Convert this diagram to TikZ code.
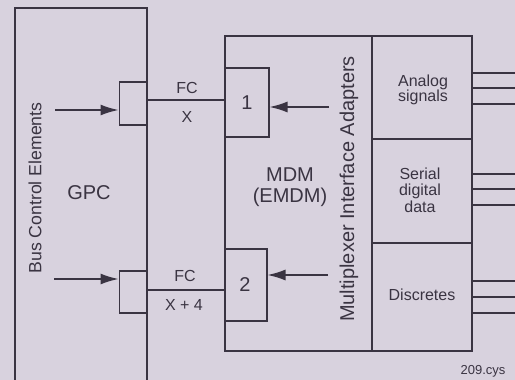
\documentclass[tikz,border=0pt]{standalone}
\usepackage{fontspec}
\setmainfont{Liberation Sans}
\usetikzlibrary{arrows.meta}
\definecolor{bg}{RGB}{216,210,222}
\definecolor{ink}{RGB}{58,52,66}
\tikzset{
  ln/.style={draw=ink, line width=1.5pt},
  arr/.style={ln, -{Latex[length=18pt,width=11pt]}},
  lbl/.style={text=ink, inner sep=0pt, align=center},
  big/.style={lbl, font=\fontsize{20}{22}\selectfont},
  small/.style={lbl, font=\fontsize{16}{17}\selectfont},
}
\begin{document}
\begin{tikzpicture}[x=1pt,y=-1pt]
\fill[bg] (0,0) rectangle (515,380);
\useasboundingbox (0,0) rectangle (515,380);
\clip (0,0) rectangle (515,380);
% GPC box
\draw[ln] (15,385) -- (15,8) -- (147,8) -- (147,385);
\node[lbl, rotate=90, font=\fontsize{17.7}{19}\selectfont] (bce) at (35,188) {Bus Control Elements};
\node[big] (gpc) at (89,193) {GPC};
% ports on GPC
\node[ln, minimum width=27pt, minimum height=43pt, inner sep=0pt, anchor=north east] (p1) at (147,81) {};
\node[ln, minimum width=27pt, minimum height=42pt, inner sep=0pt, anchor=north east] (p2) at (147,270) {};
\coordinate (a1s) at (55,110);
\coordinate (a2s) at (54,279);
\draw[arr] (a1s) -- (a1s -| p1.west);
\draw[arr] (a2s) -- (a2s -| p2.west);
% MDM box
\node[ln, minimum width=247pt, minimum height=315pt, inner sep=0pt, anchor=north west] (mdm) at (224,35) {};
\coordinate (divt) at (372,35);
\coordinate (divb) at (372,350);
\draw[ln] (divt) -- (divb);
\coordinate (h1l) at (372,139);
\coordinate (h1r) at (471,139);
\coordinate (h2l) at (372,243);
\coordinate (h2r) at (471,243);
\draw[ln] (h1l) -- (h1r);
\draw[ln] (h2l) -- (h2r);
% inner boxes
\node[ln, minimum width=44pt, minimum height=69pt, inner sep=0pt, anchor=north west] (b1) at (224,67) {};
\node[ln, minimum width=42pt, minimum height=72pt, inner sep=0pt, anchor=north west] (b2) at (224,248) {};
\node[big] (n1) at (247,103) {1};
\node[big] (n2) at (245,285) {2};
\coordinate (c1s) at (329,107);
\coordinate (c2s) at (328,275);
\draw[arr] (c1s) -- (c1s -| b1.east);
\draw[arr] (c2s) -- (c2s -| b2.east);
% connections
\coordinate (l1) at (147,100);
\coordinate (l2) at (147,290);
\draw[ln] (l1) -- (l1 -| mdm.west);
\draw[ln] (l2) -- (l2 -| mdm.west);
\node[small] (fc1) at (187,88) {FC};
\node[small] (x1) at (187,117) {X};
\node[small] (fc2) at (185,276) {FC};
\node[small] (x2) at (184,305) {X + 4};
% MDM labels
\node[big] (mdmt) at (290,175) {MDM};
\node[big] (emdm) at (290,197) {(EMDM)};
\node[lbl, rotate=90, font=\fontsize{20}{22}\selectfont] (mia) at (349,189) {Multiplexer Interface Adapters};
% right column
\node[small, font=\fontsize{16}{15.5}\selectfont] (an) at (423,90) {Analog\\signals};
\node[small, font=\fontsize{16}{16.5}\selectfont] (sd) at (420,190) {Serial\\digital\\data};
\node[small] (di) at (422,295) {Discretes};
% output lines
\foreach \y in {73,88,104,174,189,205,281,297,313}{
  \coordinate (o\y) at (471,\y);
  \draw[ln] (o\y) -- ++(50,0);
}
\node[lbl, font=\fontsize{13}{14}\selectfont] (ref) at (483,371) {209.cys};
\end{tikzpicture}
\end{document}
